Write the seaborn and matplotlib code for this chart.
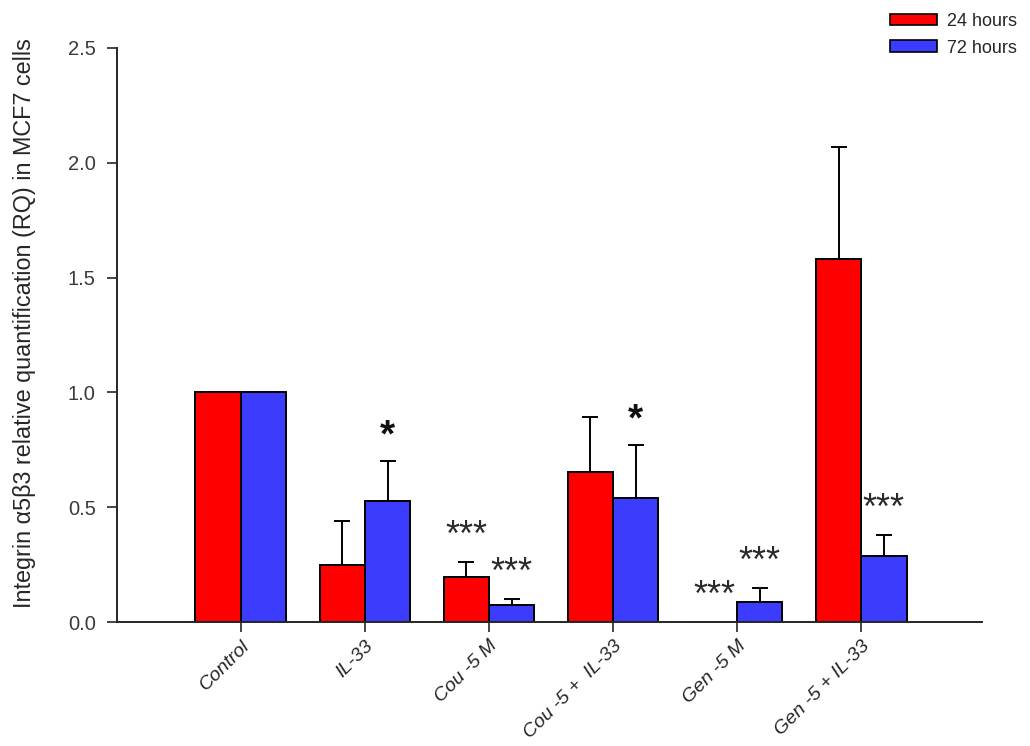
import numpy as np
import pandas as pd
import matplotlib
matplotlib.use("Agg")
import matplotlib.pyplot as plt
import seaborn as sns
from matplotlib.patches import Patch

# --- data ---
groups = ["Control", "IL-33", "Cou -5 M", "Cou -5 +  IL-33", "Gen -5 M", "Gen -5 + IL-33"]
times = ["24 hours", "72 hours"]
mean_24h = [1.00, 0.25, 0.195, 0.655, 0.0, 1.58]
mean_72h = [1.00, 0.527, 0.073, 0.541, 0.088, 0.289]
err_24h = [0.0, 0.19, 0.068, 0.24, 0.0, 0.49]
err_72h = [0.0, 0.175, 0.026, 0.23, 0.061, 0.09]
sig_24h = ["", "", "***", "", "***", ""]
sig_72h = ["", "*", "***", "*", "***", "***"]

colors = ["#ff0000", "#3c3cff"]

df = pd.DataFrame({
    "group": groups * 2,
    "time": [times[0]] * len(groups) + [times[1]] * len(groups),
    "value": mean_24h + mean_72h,
})

sns.set_style("ticks")
plt.rcParams["font.family"] = ["Liberation Sans", "DejaVu Sans"]

fig = plt.figure(figsize=(10.3, 7.46), dpi=100)
ax = fig.add_axes([0.1133, 0.1662, 0.8397, 0.7695])

sns.barplot(data=df, x="group", y="value", hue="time", order=groups,
            hue_order=times, palette=colors, width=0.73, errorbar=None,
            edgecolor="black", linewidth=1.4, saturation=1, ax=ax,
            legend=False)

# upper-only error bars and significance marks
for cont, means, errs, sigs in zip(ax.containers, [mean_24h, mean_72h],
                                   [err_24h, err_72h], [sig_24h, sig_72h]):
    xs = np.array([p.get_x() + p.get_width() / 2 for p in cont.patches])
    m = np.array(means)
    e = np.array(errs)
    has = e > 0
    ax.errorbar(xs[has], m[has], yerr=[np.zeros(has.sum()), e[has]], fmt="none",
                ecolor="black", elinewidth=1.4, capsize=6, capthick=1.4, zorder=3)
    for x, top, s in zip(xs, m + e, sigs):
        if not s:
            continue
        if s == "*":
            fs, fw, col = 28, "bold", "#111111"
        else:
            fs, fw, col = 26, "normal", "#2a2a2a"
        # centre the star glyphs a little above the bar / error cap
        ax.annotate(s, xy=(x, top + 0.14), xytext=(0, -0.45 * fs),
                    textcoords="offset points", ha="center", va="baseline",
                    fontsize=fs, fontweight=fw, color=col)

ax.set_ylim(0, 2.5)
ax.set_xlim(-1.0, 5.97)
ax.set_yticks([0.0, 0.5, 1.0, 1.5, 2.0, 2.5])
ax.set_yticklabels(["0.0", "0.5", "1.0", "1.5", "2.0", "2.5"])
ax.set_xlabel("")
ax.set_ylabel("Integrin \u03b15\u03b23 relative quantification (RQ) in MCF7 cells",
              fontsize=16.8)
ax.yaxis.set_label_coords(-0.093, 0.52)
ax.set_xticks(range(len(groups)))
ax.set_xticklabels(groups, rotation=45, ha="right", rotation_mode="anchor",
                   fontsize=14, fontstyle="italic")
ax.tick_params(axis="y", labelsize=14.5, length=7, width=1.2, pad=8, labelcolor="#3a3a3a")
ax.tick_params(axis="x", length=7, width=1.2, pad=4)
for side in ["top", "right"]:
    ax.spines[side].set_visible(False)
for side in ["left", "bottom"]:
    ax.spines[side].set_linewidth(1.4)

handles = [Patch(facecolor=c, edgecolor="black", linewidth=1.2) for c in colors]
fig.legend(handles, times, loc="upper right", bbox_to_anchor=(1.0, 1.0),
           frameon=False, fontsize=13, handlelength=2.6, handleheight=0.6,
           labelspacing=0.55, handletextpad=0.6, borderaxespad=0.3)

fig.savefig("out.png", dpi=100)
